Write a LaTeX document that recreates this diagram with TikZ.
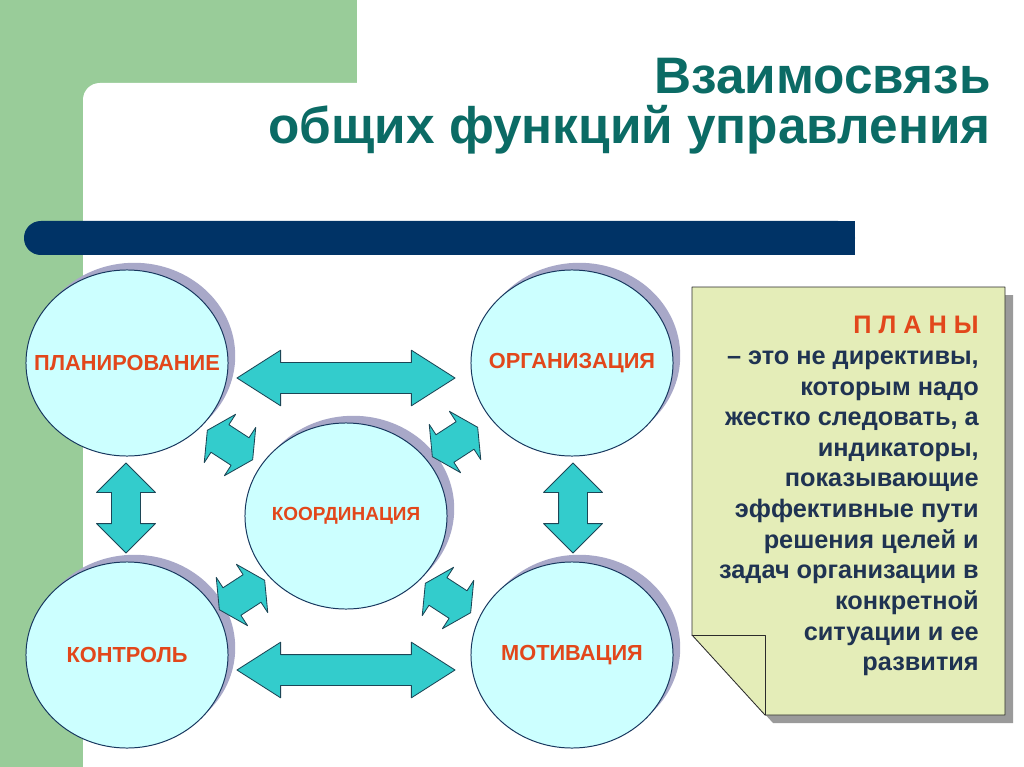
\documentclass[tikz,border=0pt]{standalone}
\usepackage{fontspec}
\setmainfont{Liberation Sans}
\usepackage{xcolor}
\usetikzlibrary{positioning,shapes.geometric,shapes.arrows,shadows}

\definecolor{greenbg}{HTML}{99CC99}
\definecolor{barblue}{HTML}{003366}
\definecolor{titleteal}{HTML}{0B6B65}
\definecolor{circfill}{HTML}{CCFFFF}
\definecolor{circline}{HTML}{17375E}
\definecolor{shadowgrey}{HTML}{A8A8C8}
\definecolor{arrowfill}{HTML}{33CCCC}
\definecolor{arrowline}{HTML}{1C4656}
\definecolor{labelred}{HTML}{E2471B}
\definecolor{notefill}{HTML}{E4EDB8}
\definecolor{noteline}{HTML}{2B2B2B}
\definecolor{noteshadow}{HTML}{9A9A9A}
\definecolor{notetext}{HTML}{1F3352}

\begin{document}
\begin{tikzpicture}[x=0.025cm, y=-0.025cm, line cap=round, line join=round,
    func/.style={ellipse, draw=circline, line width=0.7pt, fill=circfill, inner sep=0pt,
        minimum width=5.05cm, minimum height=4.65cm,
        drop shadow={shadow xshift=0.18cm, shadow yshift=0.18cm, fill=shadowgrey, opacity=1}},
    every label/.style={text=labelred, inner sep=0pt, font=\bfseries\fontsize{15.5}{18}\selectfont},
    link/.style={double arrow, draw=arrowline, line width=0.6pt, fill=arrowfill, inner xsep=0pt},
    longlink/.style={link, inner ysep=0.375cm, minimum height=5.45cm, minimum width=1.375cm,
        double arrow head extend=0.31cm, double arrow tip angle=65},
    uplink/.style={link, inner ysep=0.35cm, minimum height=2.25cm, minimum width=1.45cm,
        double arrow head extend=0.375cm, double arrow tip angle=90},
    shortlink/.style={link, inner ysep=0.4cm, minimum height=1.35cm, minimum width=1.42cm,
        double arrow head extend=0.31cm, double arrow tip angle=125}]
        \useasboundingbox (0,0) rectangle (1024,767);

        % Background
        \fill[white] (0,0) rectangle (1024,767);
        \fill[greenbg] (0,0) rectangle (357,100);
        \fill[greenbg] (0,0) rectangle (83,767);
        \fill[white, rounded corners=0.42cm] (83,83) rectangle (1060,800);
        \fill[barblue, rounded corners=0.42cm] (24,221) rectangle (855,255);
        \fill[barblue] (800,221) rectangle (855,255);

        % Title
        \node[anchor=north east, align=right, text=titleteal, inner sep=0pt,
            font=\bfseries\fontsize{36.5}{35.4}\selectfont] (title) at (991,58)
            {Взаимосвязь\\общих функций управления};

        % Define coordinates for the functions
        \coordinate (P) at (127,363);
        \coordinate (O) at (572,363);
        \coordinate (K) at (346,516);
        \coordinate (C) at (127,655);
        \coordinate (M) at (572,655);

        % Draw the functions
        \node[func, label={center:ПЛАНИРОВАНИЕ}] (plan) at (P) {};
        \node[func, label={center:ОРГАНИЗАЦИЯ}] (org) at (O) {};
        \node[func, label={[font=\bfseries\fontsize{13.5}{16}\selectfont]center:КООРДИНАЦИЯ}] (coord) at (K) {};
        \node[func, label={center:КОНТРОЛЬ}] (ctrl) at (C) {};
        \node[func, label={center:МОТИВАЦИЯ}] (motiv) at (M) {};

        % Connect the functions with arrows
        \node[longlink] (planorg) at (346,378) {};
        \node[longlink] (ctrlmotiv) at (346,670) {};
        \node[uplink, rotate=90] (planctrl) at (126,508) {};
        \node[uplink, rotate=90] (orgmotiv) at (573,508) {};
        \foreach \name/\x/\y/\a in {plancoord/230/445/-33, orgcoord/455/442/33,
                                    ctrlcoord/242/595/33, motivcoord/448/598/-33}
            \node[shortlink, rotate=\a] (\name) at (\x,\y) {};

        % Note about plans
        \fill[noteshadow] (700,295) -- (1013,295) -- (1013,723) -- (773,723) -- (700,643) -- cycle;
        \draw[noteline, fill=notefill, line width=0.6pt]
            (692,287) -- (1005,287) -- (1005,715) -- (765,715) -- (692,635) -- cycle;
        \draw[noteline, line width=0.6pt] (692,635) -- (765,635) -- (765,715);
        \node[anchor=north east, align=right, inner sep=0pt, text=notetext,
            font=\bfseries\fontsize{18}{21.8}\selectfont] (plans) at (979,316)
            {\textcolor{labelred}{П Л А Н Ы}\\– это не директивы,\\которым надо\\жестко следовать, а\\индикаторы,\\показывающие\\эффективные пути\\решения целей и\\задач организации в\\конкретной\\ситуации и ее\\развития};
    \end{tikzpicture}
\end{document}
